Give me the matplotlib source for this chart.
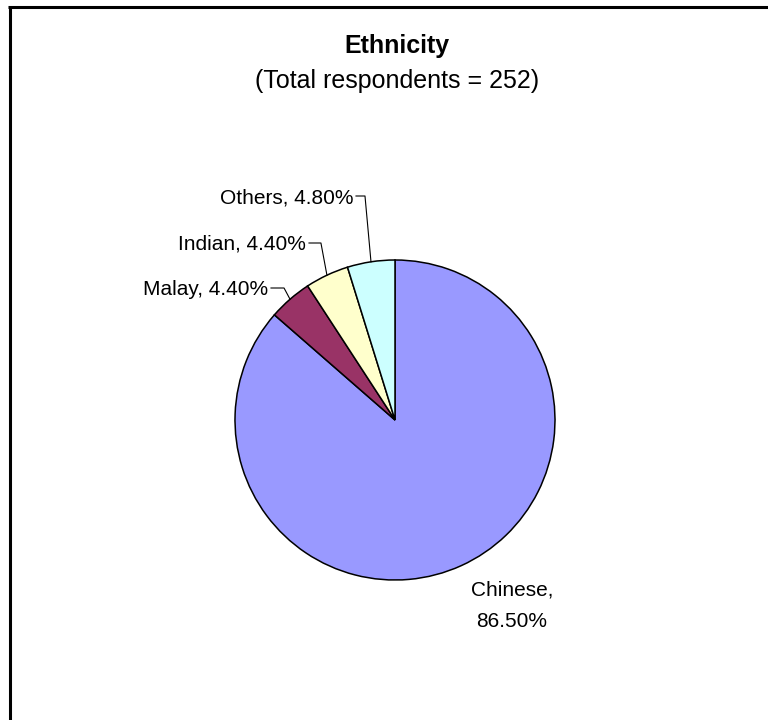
import matplotlib.pyplot as plt
import numpy as np

# data
ethnicity = ['Chinese', 'Malay', 'Indian', 'Others']
share = [86.5, 4.4, 4.4, 4.8]
colours = ['#9999FF', '#993366', '#FFFFCC', '#CCFFFF']
title = 'Ethnicity'
subtitle = '(Total respondents = 252)'

plt.rcParams['font.family'] = ['Liberation Sans', 'DejaVu Sans']

W, H = 768, 720
fig = plt.figure(figsize=(W / 100, H / 100), dpi=100)
ax = fig.add_axes([0, 0, 1, 1])

# pie centre / radius in pixel units (y measured from the top)
cx, cy, r = 395, 420, 160
wedges, _ = ax.pie(share, colors=colours, startangle=90, counterclock=False,
                   center=(cx, H - cy), radius=r,
                   wedgeprops=dict(edgecolor='black', linewidth=1.1))
ax.set_xlim(0, W)
ax.set_ylim(0, H)
ax.set_aspect('equal')
ax.axis('off')

def wedge_point(w):
    a = np.deg2rad((w.theta1 + w.theta2) / 2)
    return cx + r * np.cos(a), (H - cy) + r * np.sin(a)

# small slices: label on the left with an elbow leader line
label_pos = {'Malay': (268, 295), 'Indian': (306, 250), 'Others': (353, 203)}
for w, name, pct in zip(wedges, ethnicity, share):
    if name not in label_pos:
        continue
    tx, ty = label_pos[name]
    ax.text(tx, H - ty, f'{name}, {pct:.2f}%', ha='right', va='baseline',
            fontsize=15)
    px, py = wedge_point(w)
    ly = H - (ty - 7)
    ax.plot([tx + 3, px - 6, px], [ly, ly, py], color='black', lw=0.8)

# big slice label
ax.text(512, H - 606, f'{ethnicity[0]},\n{share[0]:.2f}%', ha='center',
        va='center', fontsize=15, linespacing=1.8)

# titles
ax.text(397, H - 53, title, ha='center', va='baseline', fontsize=18,
        fontweight='bold')
ax.text(397, H - 88, subtitle, ha='center', va='baseline', fontsize=18)

# chart area border (cut off at the right and bottom)
ax.plot([8, W], [H - 7, H - 7], color='black', lw=2.2, clip_on=False,
        solid_capstyle='butt')
ax.plot([10, 10], [0, H - 6], color='black', lw=2.2, clip_on=False,
        solid_capstyle='butt')

fig.savefig('out.png', dpi=100)
